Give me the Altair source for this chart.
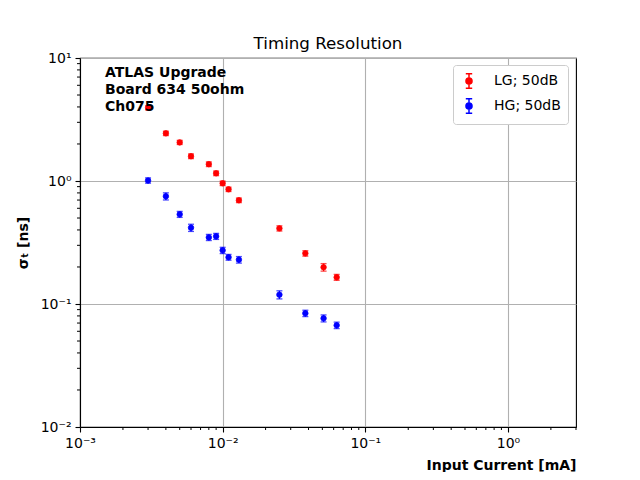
import altair as alt
import pandas as pd

# ---- data ----
current = [0.003, 0.004, 0.005, 0.006, 0.008, 0.009, 0.010, 0.011, 0.013, 0.025, 0.038, 0.051, 0.063]
lg_sigma = [3.94, 2.44, 2.06, 1.59, 1.37, 1.155, 0.958, 0.856, 0.697, 0.412, 0.258, 0.199, 0.165]
lg_err = [0.15, 0.10, 0.08, 0.07, 0.06, 0.05, 0.04, 0.035, 0.03, 0.02, 0.013, 0.014, 0.009]
hg_sigma = [1.01, 0.751, 0.536, 0.417, 0.348, 0.355, 0.273, 0.240, 0.229, 0.119, 0.084, 0.0765, 0.0671]
hg_err = [0.05, 0.05, 0.03, 0.028, 0.02, 0.02, 0.016, 0.013, 0.014, 0.009, 0.005, 0.005, 0.004]
series = ["LG; 50dB", "HG; 50dB"]
colors = ["#ff0000", "#0000ff"]

x_major = [0.001, 0.01, 0.1, 1]
x_minor = [m * d for d in [0.001, 0.01, 0.1] for m in range(2, 10)] + [2.0, 3.0]
y_major = [0.01, 0.1, 1, 10]
y_minor = [m * d for d in [0.01, 0.1, 1] for m in range(2, 10)]
annotation = ["ATLAS Upgrade", "Board 634 50ohm", "Ch075"]
title_text = "Timing Resolution"
x_title = "Input Current [mA]"
y_title = "σₜ [ns]"

rows = []
for name, sig, err in [(series[0], lg_sigma, lg_err), (series[1], hg_sigma, hg_err)]:
    for c, s, e in zip(current, sig, err):
        rows.append({"current": c, "sigma": s, "lo": s - e, "hi": s + e, "series": name})
df = pd.DataFrame(rows)

FONT = "DejaVu Sans"
x_scale = alt.Scale(type="log", domain=[0.001, 3], nice=False)
y_scale = alt.Scale(type="log", domain=[0.01, 10], nice=False)
color_scale = alt.Scale(domain=series, range=colors)

sup_expr = ("datum.value == 0.001 ? '10⁻³' : datum.value == 0.01 ? '10⁻²' : "
            "datum.value == 0.1 ? '10⁻¹' : datum.value == 1 ? '10⁰' : '10¹'")

common_axis = dict(domainColor="black", domainWidth=1.1, tickColor="black", tickWidth=1.1,
                   labelFont=FONT, labelFontSize=14, labelColor="black", labelFlush=False,
                   titleFont=FONT, titleFontSize=14, titleColor="black", titleFontWeight="bold")

x_axis = alt.Axis(values=x_major, labelExpr=sup_expr, grid=True, gridColor="#b0b0b0", gridWidth=1.1,
                  tickSize=5, labelPadding=4, title=x_title, titleAnchor="end", titlePadding=8,
                  **common_axis)
y_axis = alt.Axis(values=y_major, labelExpr=sup_expr, grid=True, gridColor="#b0b0b0", gridWidth=1.1,
                  tickSize=5, labelPadding=4, title=y_title, titlePadding=10,
                  **common_axis)

base = alt.Chart(df)

legend_path = ("M0,-0.9L0,0.9M-0.4,-0.9L0.4,-0.9M-0.4,0.9L0.4,0.9"
               "M0.38,0A0.38,0.38 0 1,1 -0.38,0A0.38,0.38 0 1,1 0.38,0Z")
legend = alt.Legend(title=None, orient="none", legendX=373, legendY=7, symbolType=legend_path,
                    symbolSize=256, symbolStrokeWidth=1.5, labelFont=FONT, labelFontSize=14,
                    labelColor="black", fillColor="white", strokeColor="#cccccc", cornerRadius=3,
                    padding=7, rowPadding=3, labelOffset=16, symbolOpacity=1)

points = base.mark_point(filled=True, size=30, opacity=1, strokeWidth=0.8).encode(
    x=alt.X("current:Q", scale=x_scale, axis=x_axis),
    y=alt.Y("sigma:Q", scale=y_scale, axis=y_axis),
    fill=alt.Fill("series:N", scale=color_scale, legend=legend, sort=series),
    stroke=alt.Stroke("series:N", scale=color_scale, legend=legend, sort=series),
)

bars = base.mark_rule(strokeWidth=1.3).encode(
    x="current:Q", y="lo:Q", y2="hi:Q",
    stroke=alt.Stroke("series:N", scale=color_scale, legend=legend, sort=series),
)
cap_lo = base.mark_tick(orient="horizontal", size=6, thickness=1.3).encode(
    x="current:Q", y="lo:Q", fill=alt.Fill("series:N", scale=color_scale, legend=legend, sort=series))
cap_hi = base.mark_tick(orient="horizontal", size=6, thickness=1.3).encode(
    x="current:Q", y="hi:Q", fill=alt.Fill("series:N", scale=color_scale, legend=legend, sort=series))

xminor = alt.Chart(pd.DataFrame({"v": x_minor})).mark_rule(color="black", strokeWidth=1.0).encode(
    x=alt.X("v:Q", scale=x_scale), y=alt.value(369), y2=alt.value(372))
yminor = alt.Chart(pd.DataFrame({"v": y_minor})).mark_rule(color="black", strokeWidth=1.0).encode(
    y=alt.Y("v:Q", scale=y_scale), x=alt.value(0), x2=alt.value(-3))

text = alt.Chart(pd.DataFrame({"t": ["\n".join(annotation)]})).mark_text(
    align="left", baseline="top", font=FONT, fontSize=14, fontWeight="bold",
    lineBreak="\n", lineHeight=17, color="black"
).encode(x=alt.value(25), y=alt.value(8), text="t:N")

chart = alt.layer(points, bars, cap_lo, cap_hi, xminor, yminor, text).properties(
    width=496, height=369,
    title=alt.TitleParams(title_text, font=FONT, fontSize=16.7, fontWeight="normal", color="black", offset=-2),
    padding={"left": 72, "top": 50, "right": 50, "bottom": 45},
    autosize=alt.AutoSizeParams(type="none"),
).configure_view(stroke="black", strokeWidth=1.1)

chart.save("out.html", embed_options={"renderer": "svg", "actions": False})
